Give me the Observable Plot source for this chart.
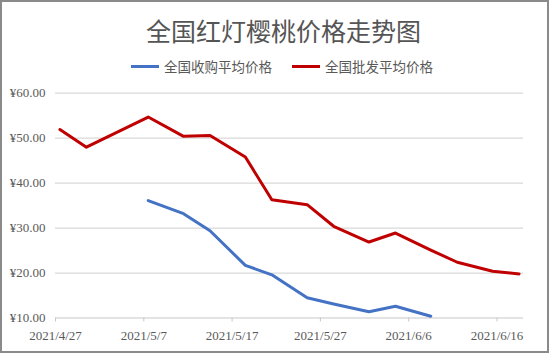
<!DOCTYPE html>
<html>
<head>
<meta charset="utf-8">
<script src="https://cdn.jsdelivr.net/npm/d3@7"></script>
<script src="https://cdn.jsdelivr.net/npm/@observablehq/plot@0.6"></script>
<style>
  html, body { margin: 0; padding: 0; background: #fff; }
  #frame {
    width: 549px; height: 353px; box-sizing: border-box;
    border: 2px solid #8a8a8a; background: #fff; overflow: hidden;
  }
  #title {
    height: 46px; padding-top: 5px; padding-left: 18px; box-sizing: content-box;
    line-height: 46px; text-align: center;
    font-family: "Noto Sans CJK SC", sans-serif; font-size: 25px; color: #555;
  }
  #legend {
    height: 26px; line-height: 26px; padding-left: 15px;
    display: flex; justify-content: center; align-items: center;
    font-family: "Noto Sans CJK SC", sans-serif; font-size: 13.5px; color: #595959;
  }
  .item { display: flex; align-items: center; }
  .item + .item { margin-left: 20px; }
  .sw { width: 28px; height: 3px; margin-right: 5px; }
</style>
</head>
<body>
<div id="frame">
  <div id="title"></div>
  <div id="legend"></div>
  <div id="chart"></div>
</div>
<script>
// ---- data ----
const titleText = "全国红灯樱桃价格走势图";
const seriesNames = ["全国收购平均价格", "全国批发平均价格"];
const seriesColors = ["#4472C4", "#C00000"];

const purchaseDates = ["2021-05-07","2021-05-11","2021-05-14","2021-05-18","2021-05-21","2021-05-25","2021-05-28","2021-06-01","2021-06-04","2021-06-08"];
const purchaseValues = [36.1, 33.2, 29.4, 21.7, 19.6, 14.5, 13.1, 11.4, 12.6, 10.4];

const wholesaleDates = ["2021-04-27","2021-04-30","2021-05-07","2021-05-11","2021-05-14","2021-05-18","2021-05-21","2021-05-25","2021-05-28","2021-06-01","2021-06-04","2021-06-08","2021-06-11","2021-06-15","2021-06-18"];
const wholesaleValues = [51.9, 48.0, 54.7, 50.4, 50.6, 45.8, 36.3, 35.2, 30.4, 26.9, 28.9, 25.1, 22.4, 20.4, 19.8];

const xTickLabels = ["2021/4/27","2021/5/7","2021/5/17","2021/5/27","2021/6/6","2021/6/16"];
const yTicks = [10, 20, 30, 40, 50, 60];
const xDomainEnd = "2021-06-19";

// ---- build ----
document.getElementById("title").textContent = titleText;
const legend = document.getElementById("legend");
seriesNames.forEach((n, i) => {
  const it = document.createElement("div"); it.className = "item";
  const sw = document.createElement("div"); sw.className = "sw"; sw.style.background = seriesColors[i];
  const tx = document.createElement("span"); tx.textContent = n;
  it.appendChild(sw); it.appendChild(tx); legend.appendChild(it);
});

const parseTick = s => { const [y, m, d] = s.split("/").map(Number); return new Date(Date.UTC(y, m - 1, d)); };
const tickDates = xTickLabels.map(parseTick);
const halfDay = 12 * 3600 * 1000;
const mk = (dates, vals, name) => dates.map((d, i) => ({ date: new Date(new Date(d + "T00:00:00Z").getTime() + halfDay), value: vals[i], series: name }));
const purchase = mk(purchaseDates, purchaseValues, seriesNames[0]);
const wholesale = mk(wholesaleDates, wholesaleValues, seriesNames[1]);

const fmtX = d => `${d.getUTCFullYear()}/${d.getUTCMonth() + 1}/${d.getUTCDate()}`;

const chart = Plot.plot({
  width: 545,
  height: 272,
  marginLeft: 53,
  marginRight: 24,
  marginTop: 13.7,
  marginBottom: 33.5,
  style: { fontFamily: "Liberation Serif, serif", fontSize: "13px", color: "#595959", background: "#fff" },
  x: { type: "utc", domain: [tickDates[0], new Date(xDomainEnd + "T00:00:00Z")] },
  y: { domain: [yTicks[0], yTicks[yTicks.length - 1]] },
  marks: [
    Plot.gridY(yTicks.slice(1), { stroke: "#d9d9d9", strokeOpacity: 1, strokeWidth: 1.2 }),
    Plot.ruleY([yTicks[0]], { stroke: "#c8c8c8", strokeWidth: 1.2 }),
    Plot.axisY(yTicks, { tickSize: 0, tickPadding: 10, tickFormat: v => "¥" + v.toFixed(2), fill: "#595959", label: null }),
    Plot.axisX(tickDates, { tickSize: 4, tickPadding: 9, tickFormat: fmtX, stroke: "#c8c8c8", fill: "#595959", label: null }),
    Plot.line(wholesale, { x: "date", y: "value", stroke: seriesColors[1], strokeWidth: 3 }),
    Plot.line(purchase, { x: "date", y: "value", stroke: seriesColors[0], strokeWidth: 3 })
  ]
});
document.getElementById("chart").appendChild(chart);
</script>
</body>
</html>
